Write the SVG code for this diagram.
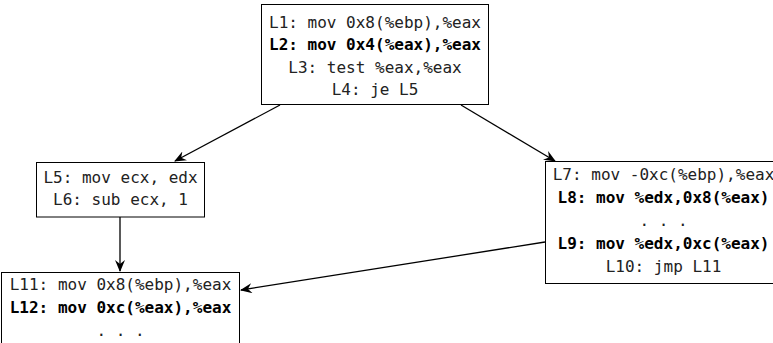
<svg xmlns="http://www.w3.org/2000/svg" width="773" height="343" viewBox="0 0 773 343">
<style>
  .box { fill: #ffffff; stroke: #000000; stroke-width: 1; }
  text { font-family: "DejaVu Sans Mono", "Liberation Mono", monospace; font-size: 16px; fill: #222222; text-anchor: middle; }
  .b { font-weight: bold; fill: #000000; }
  .edge { stroke: #000000; stroke-width: 1.3; fill: none; marker-end: url(#arr); }
</style>
<defs>
  <marker id="arr" viewBox="0 0 12 10" refX="11" refY="5" markerWidth="12" markerHeight="10" markerUnits="userSpaceOnUse" orient="auto">
    <path d="M0,0 L12,5 L0,10 L4,5 z" fill="#000000"/>
  </marker>
</defs>
<rect width="773" height="343" fill="#ffffff"/>
<g id="edges">
  <line class="edge" x1="280" y1="105" x2="175" y2="161"/>
  <line class="edge" x1="461" y1="105" x2="555" y2="161"/>
  <line class="edge" x1="120" y1="217" x2="120" y2="271"/>
  <line class="edge" x1="545" y1="242" x2="241" y2="290"/>
</g>
<g id="n1">
  <rect class="box" x="261.5" y="4.5" width="227" height="100"/>
  <text x="375" y="27.5">L1: mov 0x8(%ebp),%eax</text>
  <text class="b" x="375" y="50">L2: mov 0x4(%eax),%eax</text>
  <text x="375" y="72.5">L3: test %eax,%eax</text>
  <text x="375" y="95">L4: je L5</text>
</g>
<g id="n2">
  <rect class="box" x="36.5" y="162.5" width="168" height="54.5"/>
  <text x="120.5" y="183">L5: mov ecx, edx</text>
  <text x="120.5" y="205">L6: sub ecx, 1</text>
</g>
<g id="n3">
  <rect class="box" x="545.5" y="161.5" width="240" height="122"/>
  <text x="663.5" y="180">L7: mov -0xc(%ebp),%eax</text>
  <text class="b" x="663.5" y="203">L8: mov %edx,0x8(%eax)</text>
  <text x="663.5" y="226">. . .</text>
  <text class="b" x="663.5" y="249">L9: mov %edx,0xc(%eax)</text>
  <text x="663.5" y="272">L10: jmp L11</text>
</g>
<g id="n4">
  <rect class="box" x="1.5" y="272.5" width="238" height="90"/>
  <text x="120.5" y="290">L11: mov 0x8(%ebp),%eax</text>
  <text class="b" x="120.5" y="313">L12: mov 0xc(%eax),%eax</text>
  <text x="120.5" y="336">. . .</text>
</g>
</svg>
